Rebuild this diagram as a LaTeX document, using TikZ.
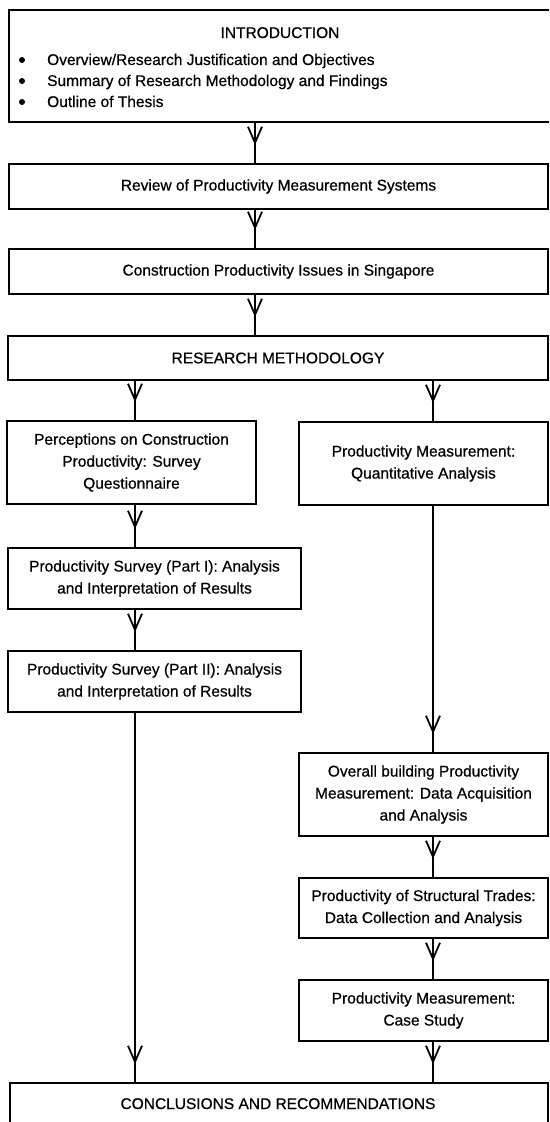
\documentclass[tikz,border=0pt]{standalone}
\usepackage{fontspec}
\setmainfont{Liberation Sans}[FakeBold=0.6]
\usetikzlibrary{arrows.meta,decorations.markings}
\newcommand{\fsz}{\fontsize{15.5}{22}\selectfont}
\begin{document}
\begin{tikzpicture}[x=1pt,y=-1pt,
  box/.style={draw, line width=2pt, inner sep=0pt, font=\fsz, align=center, anchor=north west},
  txt/.style={font=\fsz, inner sep=0pt},
  dot/.style={fill, circle, inner sep=0pt, minimum size=6pt},
  conn/.style={line width=1.8pt, postaction={decorate},
    decoration={markings, mark=at position -18pt with {\arrow{Straight Barb[length=16pt,width=14pt,line width=1.8pt]}}}}]
\useasboundingbox (0,0) rectangle (549,1122);
\clip (0,0) rectangle (549,1122);
% main column
\node[box, minimum width=545pt, minimum height=112pt] (intro) at (8,9) {};
\node[txt, anchor=base] (introT) at (280,38) {INTRODUCTION};
\node[dot] (b1) at (22,60) {};
\node[dot] (b2) at (22,81) {};
\node[dot] (b3) at (22,102) {};
\node[txt, anchor=base west] (i1) at (47,65) {Overview/Research Justification and Objectives};
\node[txt, anchor=base west] (i2) at (47,86) {Summary of Research Methodology and Findings};
\node[txt, anchor=base west] (i3) at (47,107) {Outline of Thesis};
\node[box, minimum width=539pt, minimum height=45pt] (review) at (8,163) {Review of Productivity Measurement Systems};
\node[box, minimum width=539pt, minimum height=45pt] (constr) at (8,248) {Construction Productivity Issues in Singapore};
\node[box, minimum width=540pt, minimum height=44pt] (research) at (7,335) {RESEARCH METHODOLOGY};
% left column
\node[box, minimum width=249pt, minimum height=83pt] (percep) at (6,420) {Perceptions on Construction\\Productivity: Survey\\Questionnaire};
\node[box, minimum width=293pt, minimum height=61pt] (part1) at (7,547) {Productivity Survey (Part I): Analysis\\and Interpretation of Results};
\node[box, minimum width=293pt, minimum height=61pt] (part2) at (7,650) {Productivity Survey (Part II): Analysis\\and Interpretation of Results};
% right column
\node[box, minimum width=249pt, minimum height=83pt] (quant) at (298,421) {Productivity Measurement:\\Quantitative Analysis};
\node[box, minimum width=249pt, minimum height=83pt] (overall) at (298,752) {Overall building Productivity\\Measurement: Data Acquisition\\and Analysis};
\node[box, minimum width=249pt, minimum height=60pt] (struct) at (298,877) {Productivity of Structural Trades:\\Data Collection and Analysis};
\node[box, minimum width=249pt, minimum height=61pt] (case) at (298,979) {Productivity Measurement:\\Case Study};
% bottom
\node[box, minimum width=538pt, minimum height=60pt] (concl) at (9,1082) {};
\node[txt, anchor=base] (conclT) at (278,1109) {CONCLUSIONS AND RECOMMENDATIONS};
% connector columns
\coordinate (xm) at (255,0);
\coordinate (xl) at (135,0);
\coordinate (xr) at (433,0);
\draw[conn] (intro.south -| xm) -- (review.north -| xm);
\draw[conn] (review.south -| xm) -- (constr.north -| xm);
\draw[conn] (constr.south -| xm) -- (research.north -| xm);
\draw[conn] (research.south -| xl) -- (percep.north -| xl);
\draw[conn] (research.south -| xr) -- (quant.north -| xr);
\draw[conn] (percep.south -| xl) -- (part1.north -| xl);
\draw[conn] (part1.south -| xl) -- (part2.north -| xl);
\draw[conn] (part2.south -| xl) -- (concl.north -| xl);
\draw[conn] (quant.south -| xr) -- (overall.north -| xr);
\draw[conn] (overall.south -| xr) -- (struct.north -| xr);
\draw[conn] (struct.south -| xr) -- (case.north -| xr);
\draw[conn] (case.south -| xr) -- (concl.north -| xr);
\end{tikzpicture}
\end{document}
